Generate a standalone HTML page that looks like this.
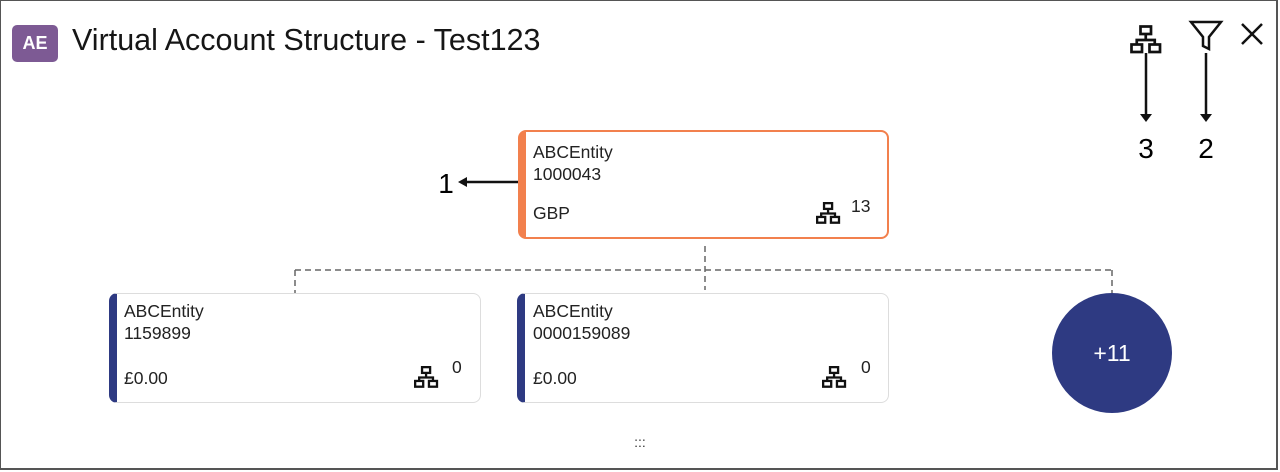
<!DOCTYPE html>
<html><head><style>
body{margin:0;width:1280px;height:472px;position:relative;font-family:"Liberation Sans",sans-serif;background:#fff;overflow:hidden}
.frame{position:absolute;left:0;top:0;width:1275px;height:467px;border:1px solid #555;border-right:2px solid #555;border-bottom:2px solid #555}
.abs{position:absolute}
.card{position:absolute;background:#fff;border-radius:8px;box-sizing:border-box;font-size:17.5px;color:#222}
.card .t{position:absolute;left:15px;line-height:22px}
</style></head><body>
<div class="frame"></div>
<div class="abs" style="left:12px;top:25px;width:46px;height:37px;border-radius:5px;background:#7d5a94;color:#fff;font-size:18px;font-weight:bold;text-align:center;line-height:37px">AE</div>
<div class="abs" style="left:72px;top:23px;font-size:30.5px;color:#161616">Virtual Account Structure - Test123</div>

<svg class="abs" style="left:0;top:0" width="1280" height="472">
<defs><g id="net" fill="none" stroke="#111" stroke-width="2"><rect x="7" y="1" width="7" height="5"/><rect x="1" y="13" width="7" height="5"/><rect x="13" y="13" width="7" height="5"/><path d="M10.5 6v4M4.5 13v-3h12v3"/></g></defs>
<g transform="translate(1130,25) scale(1.5)"><g fill="none" stroke="#111" stroke-width="1.8"><rect x="7" y="1" width="7" height="5"/><rect x="1" y="13" width="7" height="5"/><rect x="13" y="13" width="7" height="5"/><path d="M10.5 6v4M4.5 13v-3h12v3"/></g></g>
<path d="M1191 22h30l-12 15v12l-6-3v-9z" fill="none" stroke="#111" stroke-width="2.5"/>
<path d="M1242 24l20 20M1262 24l-20 20" stroke="#111" stroke-width="2.5"/>
<g stroke="#111" stroke-width="2.5"><path d="M1146 53v62M1206 53v62M518 182h-56"/></g>
<g fill="#111"><path d="M1140 114h12l-6 8z"/><path d="M1200 114h12l-6 8z"/><path d="M458 182l9-5v10z"/></g>
<text x="1146" y="158" font-size="28" text-anchor="middle" font-family="Liberation Sans">3</text>
<text x="1206" y="158" font-size="28" text-anchor="middle" font-family="Liberation Sans">2</text>
<text x="446" y="193" font-size="28" text-anchor="middle" font-family="Liberation Sans">1</text>
<g stroke="#666" stroke-width="1.5" stroke-dasharray="6,4" fill="none"><path d="M705 246v44M295 270h817M295 270v23M1112 270v23"/></g>
<circle cx="1112" cy="353" r="60" fill="#2e3a82"/>
<text x="1112" y="361" font-size="23" fill="#fff" text-anchor="middle" font-family="Liberation Sans">+11</text>
<text x="640" y="447" font-size="14" fill="#333" text-anchor="middle" font-family="Liberation Sans">:::</text>
</svg>

<div class="card" style="left:518px;top:130px;width:371px;height:109px;border:2px solid #f2804d;border-left:8px solid #f2804d">
<div class="t" style="left:7px;top:9px">ABCEntity<br>1000043</div>
<div class="t" style="left:7px;top:70px">GBP</div>
<svg style="position:absolute;left:290px;top:70px" width="26" height="24"><g transform="scale(1.15)" fill="none" stroke="#111" stroke-width="2"><rect x="7" y="1" width="7" height="5"/><rect x="1" y="13" width="7" height="5"/><rect x="13" y="13" width="7" height="5"/><path d="M10.5 6v4M4.5 13v-3h12v3"/></g></svg>
<div class="t" style="left:325px;top:63px">13</div>
</div>

<div class="card" style="left:109px;top:293px;width:372px;height:110px;border:1px solid #ddd;border-left:8px solid #2e3a82">
<div class="t" style="left:7px;top:6px">ABCEntity<br>1159899</div>
<div class="t" style="left:7px;top:73px">£0.00</div>
<svg style="position:absolute;left:297px;top:72px" width="26" height="24"><g transform="scale(1.15)" fill="none" stroke="#111" stroke-width="2"><rect x="7" y="1" width="7" height="5"/><rect x="1" y="13" width="7" height="5"/><rect x="13" y="13" width="7" height="5"/><path d="M10.5 6v4M4.5 13v-3h12v3"/></g></svg>
<div class="t" style="left:335px;top:62px">0</div>
</div>

<div class="card" style="left:517px;top:293px;width:372px;height:110px;border:1px solid #ddd;border-left:8px solid #2e3a82">
<div class="t" style="left:8px;top:6px">ABCEntity<br>0000159089</div>
<div class="t" style="left:8px;top:73px">£0.00</div>
<svg style="position:absolute;left:297px;top:72px" width="26" height="24"><g transform="scale(1.15)" fill="none" stroke="#111" stroke-width="2"><rect x="7" y="1" width="7" height="5"/><rect x="1" y="13" width="7" height="5"/><rect x="13" y="13" width="7" height="5"/><path d="M10.5 6v4M4.5 13v-3h12v3"/></g></svg>
<div class="t" style="left:336px;top:62px">0</div>
</div>
</body></html>
